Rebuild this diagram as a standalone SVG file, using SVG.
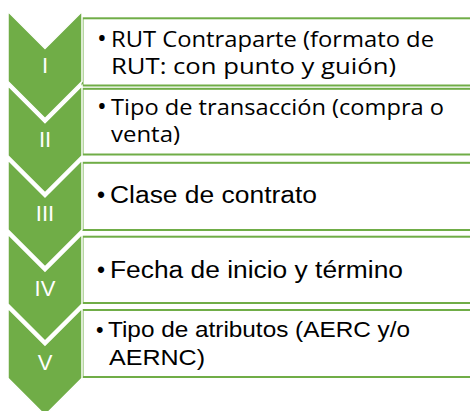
<svg xmlns="http://www.w3.org/2000/svg" width="470" height="411" viewBox="0 0 470 411">
<style>
.box{fill:#ffffff;stroke:#70AD47;stroke-width:2}
.chev{fill:#70AD47;stroke:#ffffff;stroke-width:1.5;stroke-linejoin:miter}
.lbl{font-family:"Liberation Sans",Arial,sans-serif;font-size:22px;fill:#ffffff;text-anchor:middle}
.t1{font-family:"Open Sans","Noto Sans",sans-serif;font-size:21px;fill:#000000}
.b1{font-family:"Open Sans","Noto Sans",sans-serif;font-size:26px;fill:#000000}
.t2{font-family:"Liberation Sans",Arial,sans-serif;font-size:23px;fill:#000000}
.t3{font-family:"Liberation Sans",Arial,sans-serif;font-size:21.5px;fill:#000000}
</style>
<rect width="470" height="411" fill="#ffffff"/>
<g id="connectors"/>
<g id="node-1">
<rect class="box" x="82.5" y="18.3" width="400" height="67.2"/>
<path class="chev" d="M8,11.5 L45,48.5 L82,11.5 L82,81.5 L45,118.5 L8,81.5 Z"/>
<text class="lbl" x="45" y="73">I</text>
<text class="b1" x="97" y="47">•</text>
<text class="t1" x="111" y="47" textLength="323" lengthAdjust="spacingAndGlyphs">RUT Contraparte (formato de</text>
<text class="t1" x="111" y="73.5" textLength="285" lengthAdjust="spacingAndGlyphs">RUT: con punto y guión)</text>
</g>
<g id="node-2">
<rect class="box" x="82.5" y="88.8" width="400" height="65.7"/>
<path class="chev" d="M8,85.7 L45,122.7 L82,85.7 L82,155.7 L45,192.7 L8,155.7 Z"/>
<text class="lbl" x="45" y="147">II</text>
<text class="b1" x="97" y="115">•</text>
<text class="t1" x="111" y="115" textLength="333" lengthAdjust="spacingAndGlyphs">Tipo de transacción (compra o</text>
<text class="t1" x="111" y="141.5" textLength="69" lengthAdjust="spacingAndGlyphs">venta)</text>
</g>
<g id="node-3">
<rect class="box" x="82.5" y="162.8" width="400" height="67.2"/>
<path class="chev" d="M8,159.9 L45,196.9 L82,159.9 L82,229.9 L45,266.9 L8,229.9 Z"/>
<text class="lbl" x="45" y="221">III</text>
<text class="t2" x="97" y="202.5">•</text>
<text class="t2" x="110" y="202.5" textLength="207" lengthAdjust="spacingAndGlyphs">Clase de contrato</text>
</g>
<g id="node-4">
<rect class="box" x="82.5" y="236.7" width="400" height="66.3"/>
<path class="chev" d="M8,234.1 L45,271.1 L82,234.1 L82,304.1 L45,341.1 L8,304.1 Z"/>
<text class="lbl" x="45" y="296">IV</text>
<text class="t2" x="97" y="278">•</text>
<text class="t2" x="110" y="278" textLength="293" lengthAdjust="spacingAndGlyphs">Fecha de inicio y término</text>
</g>
<g id="node-5">
<rect class="box" x="82.5" y="310" width="400" height="67"/>
<path class="chev" d="M8,308.3 L45,345.3 L82,308.3 L82,378.3 L45,415.3 L8,378.3 Z"/>
<text class="lbl" x="45" y="370">V</text>
<text class="t3" x="96" y="337">•</text>
<text class="t3" x="108" y="337" textLength="302" lengthAdjust="spacingAndGlyphs">Tipo de atributos (AERC y/o</text>
<text class="t3" x="109" y="365" textLength="96" lengthAdjust="spacingAndGlyphs">AERNC)</text>
</g>
</svg>
